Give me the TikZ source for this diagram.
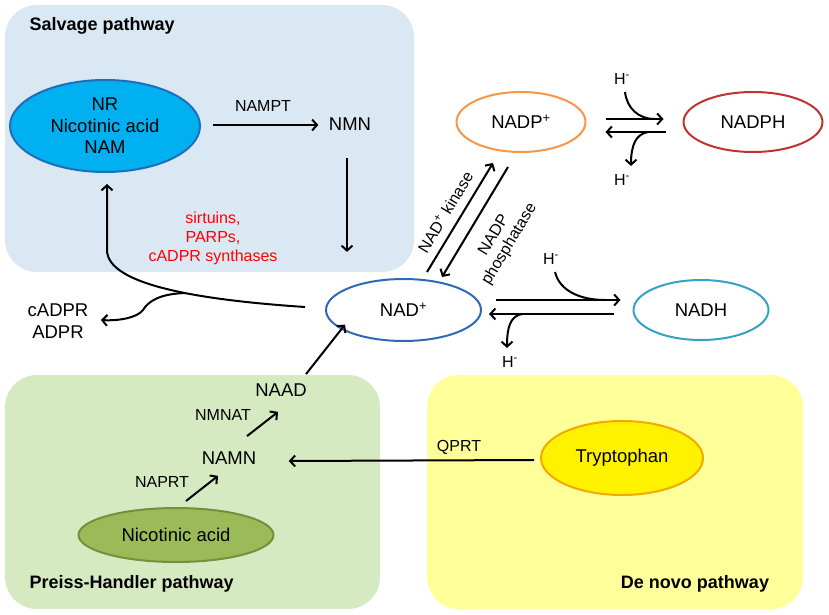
\documentclass[tikz,border=0pt]{standalone}
\usepackage{fontspec}
\setmainfont{Liberation Sans}
\usetikzlibrary{arrows.meta, shapes.geometric, calc}
\usepackage{xcolor}
\definecolor{salvbg}{HTML}{DAE8F4}
\definecolor{preissbg}{HTML}{D6EAC1}
\definecolor{denovobg}{HTML}{FFFF99}
\definecolor{nrfill}{HTML}{00B0F0}
\definecolor{nrline}{HTML}{1F6FB8}
\definecolor{nadline}{HTML}{2E69B8}
\definecolor{nadhline}{HTML}{35A2C4}
\definecolor{nadpline}{HTML}{F79646}
\definecolor{nadphline}{HTML}{BE3232}
\definecolor{nafill}{HTML}{9BBB59}
\definecolor{naline}{HTML}{74903F}
\definecolor{trpline}{HTML}{F2A900}
\definecolor{enzred}{HTML}{FF0000}

\begin{document}
\begin{tikzpicture}[x=1pt, y=-1pt, font=\fontsize{18.5}{21.5}\selectfont,
    arr/.style={line width=2pt, -{Straight Barb[length=5pt, width=11pt]}},
    hline/.style={line width=2pt},
    enz/.style={font=\fontsize{16}{19}\selectfont},
    pathname/.style={font=\fontsize{18}{21}\selectfont\bfseries},
    mol/.style={ellipse, line width=2pt, inner sep=0pt, align=center}]
    \useasboundingbox (0,0) rectangle (829,615);

    % pathway areas
    \fill[salvbg, rounded corners=32pt] (5,5) rectangle (414,272);
    \fill[preissbg, rounded corners=32pt] (5,375) rectangle (380,609);
    \fill[denovobg, rounded corners=32pt] (427,375) rectangle (803,609);
    \node[pathname, anchor=west] (salv) at (26,26) {Salvage pathway};
    \node[pathname, anchor=west] (preiss) at (26,584) {Preiss-Handler pathway};
    \node[pathname] (denovo) at (695,584) {De novo pathway};

    % molecules
    \node[mol, draw=nrline, fill=nrfill, minimum width=190pt, minimum height=92pt] (nr) at (105,126)
        {NR\\Nicotinic acid\\NAM};
    \node (nmn) at (350,124) {NMN};
    \node[mol, draw=nadline, minimum width=155pt, minimum height=62pt] (nad) at (403.5,310)
        {NAD\textsuperscript{+}};
    \node[mol, draw=nadpline, minimum width=129pt, minimum height=60pt] (nadp) at (521,122)
        {NADP\textsuperscript{+}};
    \node[mol, draw=nadphline, minimum width=139pt, minimum height=60pt] (nadph) at (753,122) {NADPH};
    \node[mol, draw=nadhline, minimum width=135pt, minimum height=60pt] (nadh) at (701,310) {NADH};
    \node[align=center] (cadpr) at (58,321) {cADPR\\ADPR};
    \node (naad) at (281,390) {NAAD};
    \node (namn) at (229,458) {NAMN};
    \node[mol, draw=naline, fill=nafill, minimum width=195pt, minimum height=54pt] (na) at (176,535)
        {Nicotinic acid};
    \node[mol, draw=trpline, fill=yellow, minimum width=162pt, minimum height=74pt] (trp) at (622,458)
        {Tryptophan};

    % salvage
    \draw[arr] ($(nr.east)+(12,-1)$) -- ($(nmn.west)+(-7,1)$);
    \node[enz] (nampt) at (263,106) {NAMPT};
    \draw[arr] ($(nmn.south)+(-3,24)$) -- ($(nmn.south)+(-3,118)$);
    \draw[arr] ($(nad.west)+(-20,-3)$) .. controls (200,300) and (107,285) .. (107,250)
        -- ($(nr.south)+(2,11)$);
    \coordinate (br) at (185,293);
    \draw[arr] (br) .. controls (158,294) and (148,302) .. (143,310)
        .. controls (137,318) and (118,321) .. ($(cadpr.east)+(9,-1)$);
    \node[enz, text=enzred, align=center] (sirt) at (213,238) {sirtuins,\\PARPs,\\cADPR synthases};

    % NAD+ / NADP+
    \draw[arr] ($(nad.north)+(23.5,-6)$) -- ($(nadp.south)+(-28,10)$);
    \draw[arr] ($(nadp.south)+(-13,14)$) -- ($(nad.north)+(38.5,-1)$);
    \node[enz, rotate=59] (kin) at (445,212) {NAD\textsuperscript{+} kinase};
    \node[enz, rotate=59, align=center, font=\fontsize{16}{18}\selectfont] (phos) at (502,240)
        {NADP\\phosphatase};

    % NADP+ <-> NADPH
    \node[enz] (h1) at (622,79) {H\textsuperscript{-}};
    \node[enz] (h2) at (622,180) {H\textsuperscript{-}};
    \draw[arr] ($(nadp.east)+(19,-3)$) -- ($(nadph.west)+(-19,-3)$);
    \draw[arr] ($(nadph.west)+(-17,10)$) -- ($(nadp.east)+(19,10)$);
    \draw[hline] ($(h1.south)+(3,4)$) .. controls (627,108) and (638,119) .. (655,119);
    \draw[arr] (648,132) .. controls (636,134) and (631,145) .. ($(h2.north)+(9,-5)$);

    % NAD+ <-> NADH
    \node[enz] (h3) at (551,259) {H\textsuperscript{-}};
    \node[enz] (h4) at (510,362) {H\textsuperscript{-}};
    \draw[arr] ($(nad.east)+(14,-10)$) -- ($(nadh.west)+(-12,-10)$);
    \draw[arr] ($(nadh.west)+(-19,4)$) -- ($(nad.east)+(7,4)$);
    \draw[hline] ($(h3.south)+(4,4)$) .. controls (560,292) and (582,300) .. (605,300);
    \draw[arr] (522,314) .. controls (510,316) and (507,328) .. ($(h4.north)+(-3,-5)$);

    % Preiss-Handler / de novo
    \draw[arr] ($(na.north)+(10,-6)$) -- ($(namn.south)+(-11,8)$);
    \node[enz] (naprt) at (162,482) {NAPRT};
    \draw[arr] ($(namn.north)+(18,-12)$) -- ($(naad.south)+(-3,12)$);
    \node[enz] (nmnat) at (223,415) {NMNAT};
    \draw[arr] ($(naad.north)+(25,-6)$) -- ($(nad.south west)+(-3,-8)$);
    \draw[arr] ($(trp.west)+(-6,2)$) -- ($(namn.east)+(29,3)$);
    \node[enz] (qprt) at (459,447) {QPRT};
\end{tikzpicture}
\end{document}
